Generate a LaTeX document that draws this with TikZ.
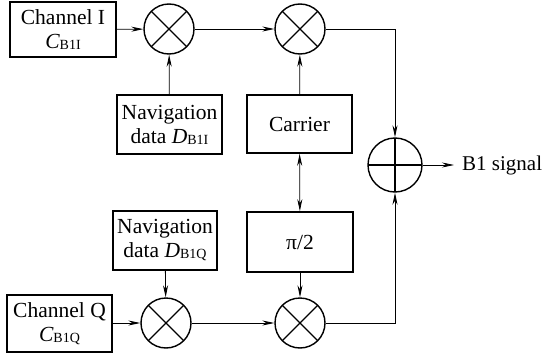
\documentclass[tikz,border=0pt]{standalone}
\usepackage{fontspec}
\setmainfont{Liberation Serif}
\usetikzlibrary{arrows.meta}
\newcommand{\lowsub}[1]{\raisebox{-1pt}{\fontsize{14}{14}\selectfont #1}}
\tikzset{
  blk/.style={draw, line width=1.6pt, align=center, inner sep=0pt},
  mul/.style={circle, draw, line width=1.4pt, minimum size=50pt, inner sep=0pt,
    path picture={\draw[line width=1.4pt] (path picture bounding box.north west) -- (path picture bounding box.south east)
      (path picture bounding box.north east) -- (path picture bounding box.south west);}},
  sum/.style={circle, draw, line width=1.4pt, minimum size=54pt, inner sep=0pt,
    path picture={\draw[line width=1.4pt] (path picture bounding box.north) -- (path picture bounding box.south)
      (path picture bounding box.west) -- (path picture bounding box.east);}},
  sig/.style={-{Stealth[length=12pt,width=5pt]}, line width=0.8pt}
}
\begin{document}
\begin{tikzpicture}[x=1pt, y=-1pt, font=\fontsize{21.5}{24}\selectfont]
      \useasboundingbox (0,0) rectangle (544,356);

      \begin{scope}[every node/.style={blk}]
        \node[minimum width=106pt, minimum height=55pt] (chI)  at (63,29.5)   {Channel I\\{\itshape C}\lowsub{B1I}};
        \node[minimum width=105pt, minimum height=59pt] (navI) at (169.5,124.5) {Navigation\\data {\itshape D}\lowsub{B1I}};
        \node[minimum width=105pt, minimum height=58pt] (car)  at (299.5,124)  {Carrier};
        \node[minimum width=104pt, minimum height=59pt] (navQ) at (165,240.5)  {Navigation\\data {\itshape D}\lowsub{B1Q}};
        \node[minimum width=105pt, minimum height=57pt] (chQ)  at (59.5,323.5) {Channel Q\\{\itshape C}\lowsub{B1Q}};
        \node[minimum width=106pt, minimum height=60pt] (half) at (300,242)    {π/2};
      \end{scope}

      \node[mul] (m1) at (169,29)  {};
      \node[mul] (m2) at (300,29)  {};
      \node[mul] (m3) at (166,323) {};
      \node[mul] (m4) at (300,323) {};
      \node[sum] (add) at (395,165) {};
      \node[anchor=west, inner sep=0pt, inner xsep=8pt, font=\fontsize{21}{24}\selectfont] (out) at (454,165) {B1 signal};

      \begin{scope}[every path/.style={sig}]
        \draw (chI)  -- (m1);
        \draw (m1)   -- (m2);
        \draw (navI) -- (m1);
        \draw (car)  -- (m2);
        \draw (m2)   -| (add);
        \draw[{Stealth[length=12pt,width=5pt]}-{Stealth[length=12pt,width=5pt]}] (car) -- (half);
        \draw (navQ) -- (m3);
        \draw (chQ.east |- m3) -- (m3);
        \draw (m3)   -- (m4);
        \draw (half) -- (m4);
        \draw (m4)   -| (add);
        \draw (add)  -- (out);
      \end{scope}

    \end{tikzpicture}
\end{document}
